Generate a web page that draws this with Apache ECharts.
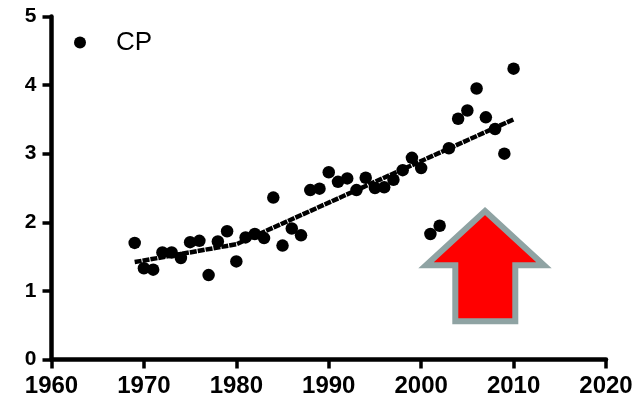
<!DOCTYPE html>
<html>
<head>
<meta charset="utf-8">
<script src="https://cdn.jsdelivr.net/npm/echarts@6/dist/echarts.min.js"></script>
<style>html,body{margin:0;padding:0;background:#fff}#c{width:637px;height:399px}</style>
</head>
<body>
<div id="c"></div>
<script>
const years = [1969,1970,1971,1972,1973,1974,1975,1976,1977,1978,1979,1980,1981,1982,1983,1984,1985,1986,1987,1988,1989,1990,1991,1992,1993,1994,1995,1996,1997,1998,1999,2000,2001,2002,2003,2004,2005,2006,2007,2008,2009,2010];
const cpValues = [1.70,1.33,1.31,1.56,1.56,1.48,1.71,1.73,1.23,1.72,1.87,1.43,1.78,1.83,1.77,2.36,1.66,1.91,1.81,2.47,2.49,2.73,2.59,2.64,2.47,2.65,2.50,2.51,2.62,2.76,2.94,2.79,1.83,1.95,3.08,3.51,3.63,3.95,3.53,3.36,3.00,4.24];
const trendYears = [1969, 1980, 2010];
const trendValues = [1.42, 1.68, 3.50];
const xTicks = [1960, 1970, 1980, 1990, 2000, 2010, 2020];
const yTicks = [0, 1, 2, 3, 4, 5];
const seriesName = 'CP';

const chart = echarts.init(document.getElementById('c'), null, {renderer: 'canvas'});
const FONT = '"Liberation Sans", Arial, sans-serif';
chart.setOption({
  animation: false,
  backgroundColor: '#ffffff',
  grid: {left: 51.5, right: 31, top: 16.5, bottom: 39.5, containLabel: false},
  legend: {
    data: [seriesName],
    left: 74, top: 29.5, padding: 0,
    itemWidth: 44, itemHeight: 12,
    icon: 'circle',
    textStyle: {fontFamily: FONT, fontSize: 26, color: '#000', padding: [0, 0, 0, 9]}
  },
  xAxis: {
    type: 'value', min: xTicks[0], max: xTicks[xTicks.length - 1], interval: 10,
    axisLine: {show: true, onZero: false, lineStyle: {color: '#000', width: 4.5}},
    axisTick: {show: true, length: 9, lineStyle: {color: '#000', width: 3.5}},
    splitLine: {show: false},
    axisLabel: {fontFamily: FONT, fontWeight: 'bold', fontSize: 24, color: '#000', margin: 15,
      formatter: v => xTicks.includes(v) ? String(v) : ''}
  },
  yAxis: {
    type: 'value', min: yTicks[0], max: yTicks[yTicks.length - 1], interval: 1,
    axisLine: {show: true, onZero: false, lineStyle: {color: '#000', width: 4.5}},
    axisTick: {show: true, length: 9, lineStyle: {color: '#000', width: 3.5}},
    splitLine: {show: false},
    axisLabel: {fontFamily: FONT, fontWeight: 'bold', fontSize: 21, color: '#000', margin: 15,
      formatter: v => yTicks.includes(v) ? String(v) : ''}
  },
  series: [
    {
      type: 'line', name: 'trend', data: trendYears.map((x, i) => [x, trendValues[i]]),
      symbol: 'none', z: 3,
      lineStyle: {color: '#000', width: 4.5, type: [7, 1]}
    },
    {
      type: 'scatter', name: seriesName, data: years.map((x, i) => [x, cpValues[i]]),
      symbol: 'circle', symbolSize: 12.5, z: 2,
      itemStyle: {color: '#000', opacity: 1}
    }
  ],
  graphic: [{
    type: 'polygon', z: 10,
    shape: {points: [[485, 211], [544, 265.3], [515.3, 265.3], [515.3, 321.3], [455.3, 321.3], [455.3, 265.3], [426, 265.3]]},
    style: {fill: '#ff0000', stroke: '#8fa3a3', lineWidth: 6, lineJoin: 'miter'}
  }]
});
</script>
</body>
</html>
